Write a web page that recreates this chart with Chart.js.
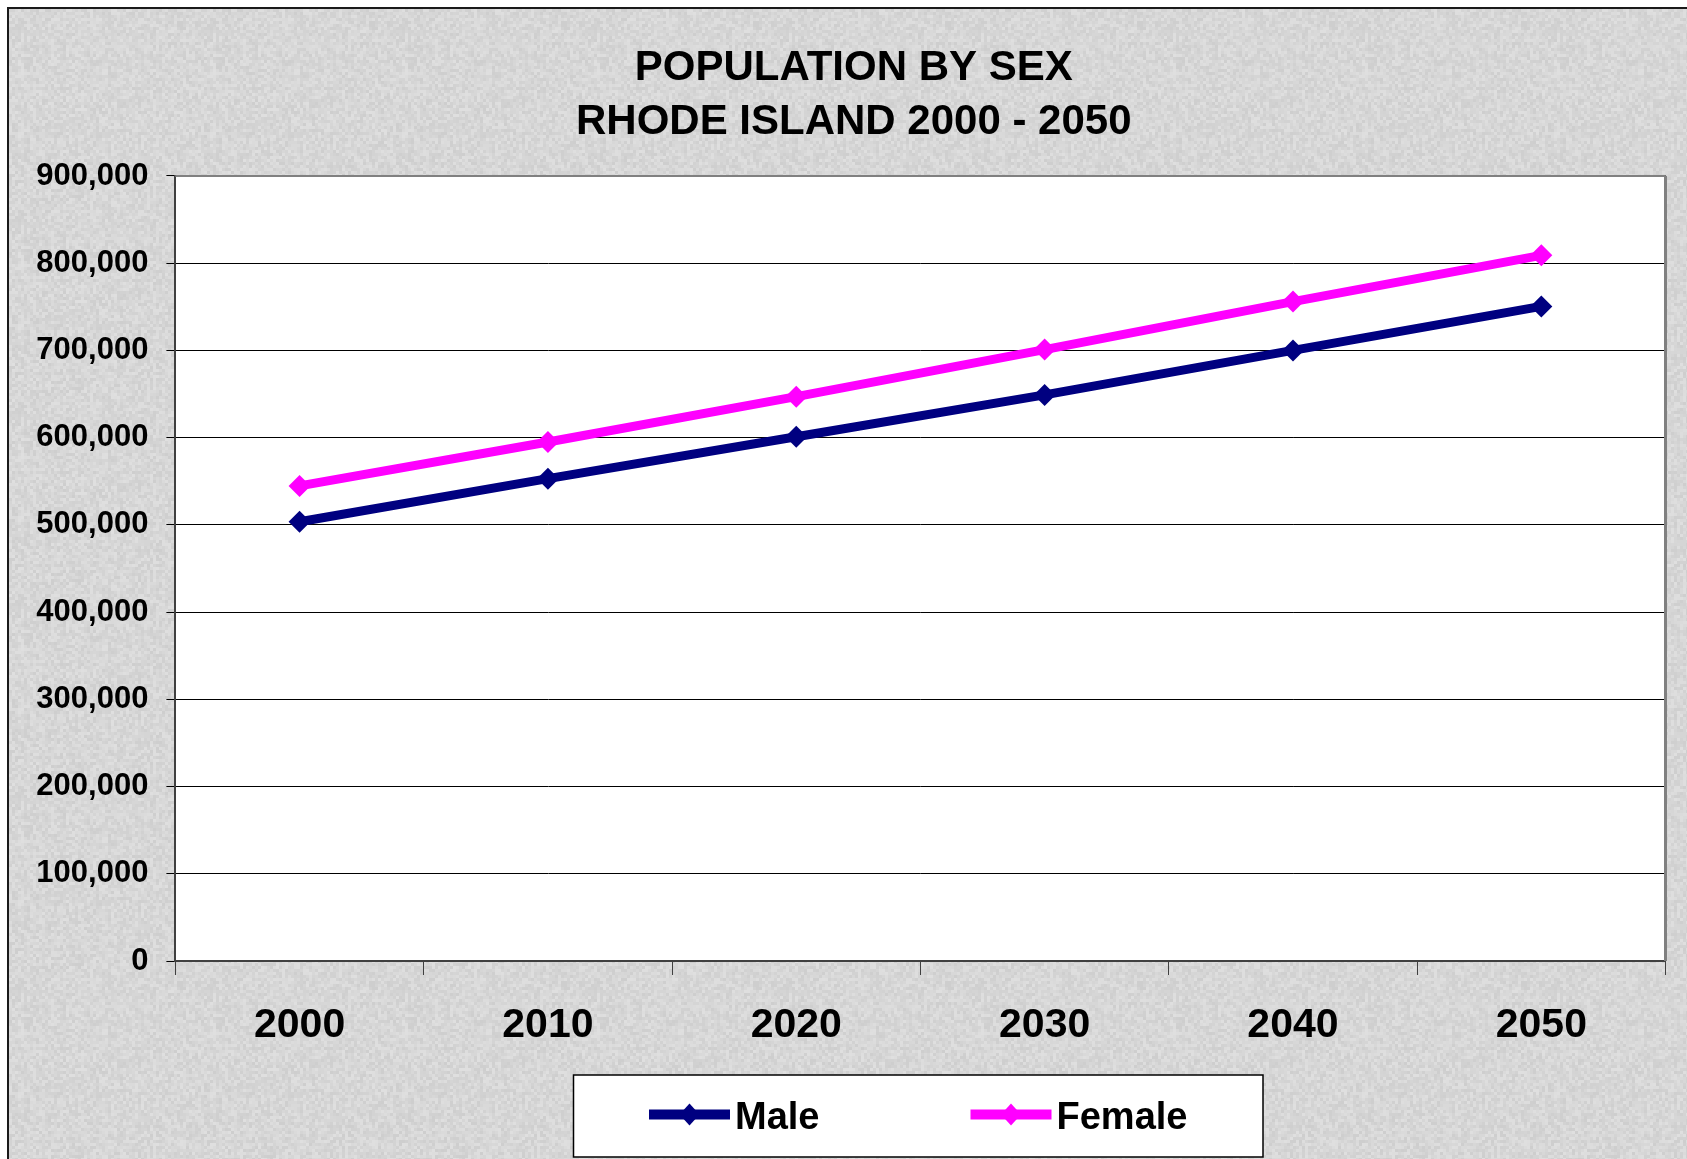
<!DOCTYPE html>
<html><head><meta charset="utf-8">
<script src="https://cdn.jsdelivr.net/npm/chart.js@4.4.1/dist/chart.umd.min.js"></script>
<style>
html,body{margin:0;padding:0;background:#fff;overflow:hidden;width:1687px;height:1159px;}
#frame{position:absolute;left:7px;top:7px;border-left:2px solid #1a1a1a;border-top:2px solid #1a1a1a;width:1690px;height:1160px;}
canvas{display:block;}
</style></head><body>
<div id="frame"><canvas id="c" width="1690" height="1160" style="width:1690px;height:1160px"></canvas></div>
<script>
// ---- data ----
const years = ['2000', '2010', '2020', '2030', '2040', '2050'];
const maleValues = [503635, 553000, 601000, 649000, 700000, 750500];
const femaleValues = [544684, 595000, 647000, 701000, 756000, 809000];
const seriesNames = ['Male', 'Female'];
const seriesColors = ['#000080', '#FF00FF'];
const titleLines = ['POPULATION BY SEX', 'RHODE ISLAND 2000 - 2050'];
const yMin = 0, yMax = 900000, yStep = 100000;

const FONT = "'Liberation Sans', Arial, Helvetica, sans-serif";

// deterministic granite-like background texture (decorative only)
function makeTexture() {
  const n = 192, cell = 3;
  const c = document.createElement('canvas');
  c.width = n; c.height = n;
  const g = c.getContext('2d');
  g.fillStyle = '#d6d6d6';
  g.fillRect(0, 0, n, n);
  let h = 2166136261 >>> 0;
  const next = () => { h ^= h << 13; h >>>= 0; h ^= h >>> 17; h ^= h << 5; h >>>= 0; return h / 4294967296; };
  for (let y = 0; y < n; y += cell) {
    for (let x = 0; x < n; x += cell) {
      const v = Math.round(200 + next() * 32);
      g.fillStyle = 'rgba(' + v + ',' + v + ',' + v + ',0.55)';
      g.fillRect(x, y, cell, cell);
    }
  }
  return c;
}
const texture = makeTexture();

const framePlugin = {
  id: 'frame',
  afterLayout(chart) {
    // centre the title over the whole chart object
    const t = chart.titleBlock;
    if (t) { t.left += 16.5; t.right += 16.5; }
  },
  beforeDraw(chart) {
    const {ctx, chartArea: a, width, height} = chart;
    ctx.save();
    ctx.fillStyle = ctx.createPattern(texture, 'repeat');
    ctx.fillRect(0, 0, width, height);
    ctx.fillStyle = '#ffffff';
    ctx.fillRect(a.left, a.top, a.right - a.left, a.bottom - a.top);
    ctx.restore();
  },
  beforeDatasetsDraw(chart) {
    const {ctx, chartArea: a} = chart;
    ctx.save();
    ctx.strokeStyle = '#808080';
    ctx.lineWidth = 2;
    ctx.beginPath();
    ctx.moveTo(a.left, a.top);
    ctx.lineTo(a.right, a.top);
    ctx.stroke();
    ctx.lineWidth = 3;
    ctx.beginPath();
    ctx.moveTo(a.right, a.top);
    ctx.lineTo(a.right, a.bottom);
    ctx.stroke();
    ctx.restore();
  },
  afterDraw(chart) {
    // boxed legend
    const ctx = chart.ctx;
    const box = {x: 564.5, y: 1066, w: 689.5, h: 82};
    ctx.save();
    ctx.fillStyle = '#ffffff';
    ctx.fillRect(box.x, box.y, box.w, box.h);
    ctx.strokeStyle = '#000000';
    ctx.lineWidth = 1.5;
    ctx.strokeRect(box.x, box.y, box.w, box.h);
    const itemX = [640, 961.5];
    const lineY = 1105.5;
    chart.data.datasets.forEach((ds, i) => {
      const x0 = itemX[i];
      ctx.strokeStyle = ds.borderColor;
      ctx.lineWidth = 10;
      ctx.beginPath();
      ctx.moveTo(x0, lineY);
      ctx.lineTo(x0 + 81, lineY);
      ctx.stroke();
      const cx = x0 + 40.5;
      ctx.fillStyle = ds.borderColor;
      ctx.beginPath();
      ctx.moveTo(cx, lineY - 11);
      ctx.lineTo(cx + 10, lineY);
      ctx.lineTo(cx, lineY + 11);
      ctx.lineTo(cx - 10, lineY);
      ctx.closePath();
      ctx.fill();
      ctx.fillStyle = '#000000';
      ctx.font = 'bold 38px ' + FONT;
      ctx.textAlign = 'left';
      ctx.textBaseline = 'middle';
      ctx.fillText(ds.label, x0 + 86, 1110);
    });
    ctx.restore();
  }
};

new Chart(document.getElementById('c'), {
  type: 'line',
  data: {
    labels: years,
    datasets: [
      {label: seriesNames[0], data: maleValues, borderColor: seriesColors[0], backgroundColor: seriesColors[0],
       borderWidth: 9, pointStyle: 'rectRot', pointRadius: 11, pointBorderWidth: 0, tension: 0},
      {label: seriesNames[1], data: femaleValues, borderColor: seriesColors[1], backgroundColor: seriesColors[1],
       borderWidth: 9, pointStyle: 'rectRot', pointRadius: 11, pointBorderWidth: 0, tension: 0}
    ]
  },
  options: {
    responsive: false,
    animation: false,
    layout: {padding: {left: 0, right: 33.5, top: 0, bottom: 108}},
    plugins: {
      legend: {display: false},
      tooltip: {enabled: false},
      title: {
        display: true, text: titleLines, color: '#000000',
        font: {family: FONT, size: 42, weight: 'bold', lineHeight: 1.2857},
        padding: {top: 32, bottom: 27}
      }
    },
    scales: {
      x: {
        offset: true,
        grid: {display: true, offset: true, drawOnChartArea: false, drawTicks: true, tickLength: 14, color: '#404040', lineWidth: 1},
        border: {display: true, color: '#404040', width: 2},
        ticks: {color: '#000000', padding: 26, font: {family: FONT, size: 41, weight: 'bold'}, maxRotation: 0},
        afterFit(scale) { scale.height = 100; }
      },
      y: {
        min: yMin, max: yMax,
        grid: {color: '#000000', lineWidth: 1, tickLength: 9, drawTicks: true},
        border: {display: true, color: '#404040', width: 2},
        ticks: {stepSize: yStep, color: '#000000', padding: 18, font: {family: FONT, size: 31, weight: 'bold'},
                callback: (v) => Number(v).toLocaleString('en-US')},
        afterFit(scale) { scale.width = 166.4; }
      }
    }
  },
  plugins: [framePlugin]
});
</script>
</body></html>
